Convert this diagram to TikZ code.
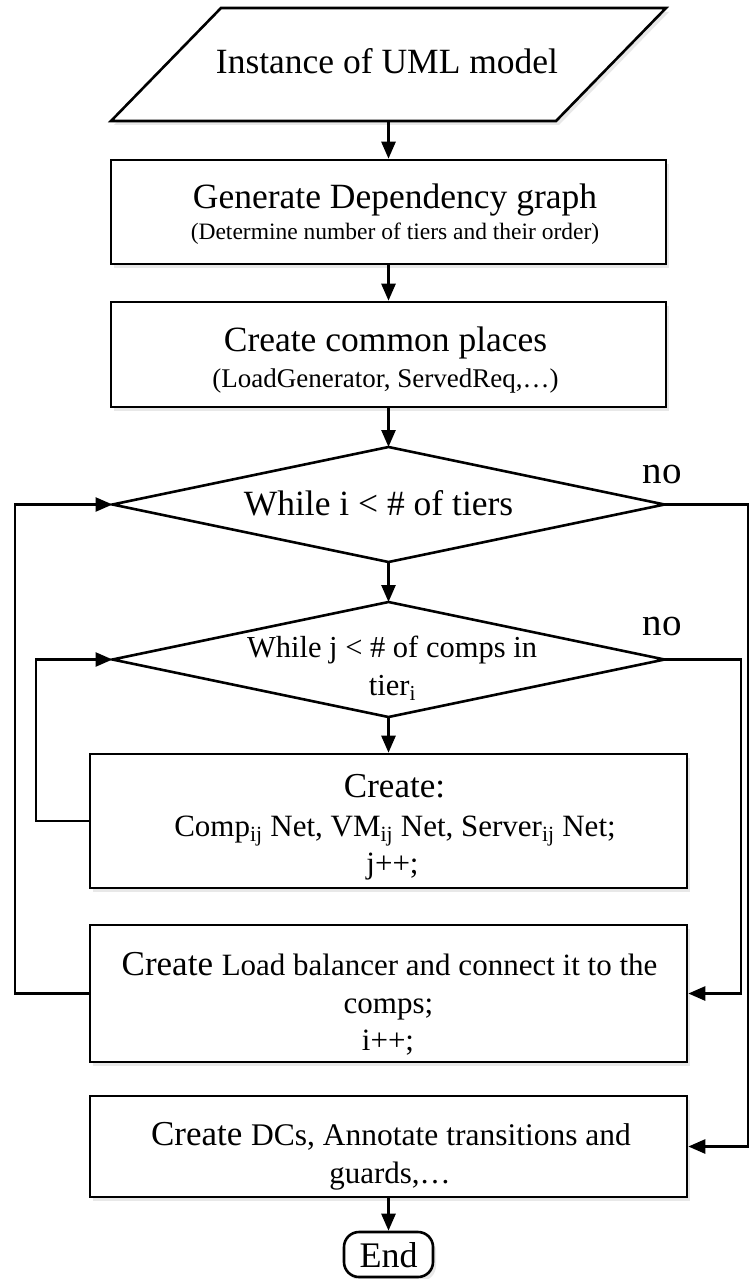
\documentclass[tikz,border=0pt]{standalone}
\usepackage{fontspec}
\setmainfont{Liberation Serif}
\usetikzlibrary{arrows.meta,shadows}

\newcommand{\fs}[1]{\fontsize{#1}{#1}\selectfont}

\tikzset{
  lw/.style={line width=2.6pt},
  soft shadow/.style={drop shadow={shadow xshift=3pt,shadow yshift=-4pt,opacity=0.18}},
  stepbox/.style={draw, lw, fill=white, soft shadow, rectangle, inner sep=0pt},
  iobox/.style={draw, lw, fill=white, soft shadow, line join=miter},
  decision/.style={draw, lw, fill=white, line join=miter},
  terminal/.style={draw, lw, fill=white, soft shadow, rectangle,
    rounded corners=15pt, inner sep=0pt},
  txt/.style={anchor=base, inner sep=0pt},
  flow/.style={lw, -{Triangle[length=17pt,width=14pt]}},
}

\begin{document}
\begin{tikzpicture}[x=1pt,y=-1pt]
\useasboundingbox (0,0) rectangle (751,1279);

% input parallelogram
\coordinate (in-nw) at (221,8);
\coordinate (in-ne) at (666,8);
\coordinate (in-se) at (556,121);
\coordinate (in-sw) at (111,121);
\coordinate (in-s) at (388.5,121);
\path[iobox] (in-nw) -- (in-ne) -- (in-se) -- (in-sw) -- cycle;

% decision diamonds
\coordinate (d1) at (388.5,504.5);
\coordinate (d1-n) at (388.5,447);
\coordinate (d1-s) at (388.5,562);
\coordinate (d1-w) at (112.5,504.5);
\coordinate (d1-e) at (664.5,504.5);
\path[decision] (d1-n) -- (d1-e) -- (d1-s) -- (d1-w) -- cycle;

\coordinate (d2) at (388.5,659.5);
\coordinate (d2-n) at (388.5,602);
\coordinate (d2-s) at (388.5,717);
\coordinate (d2-w) at (112.5,659.5);
\coordinate (d2-e) at (664.5,659.5);
\path[decision] (d2-n) -- (d2-e) -- (d2-s) -- (d2-w) -- cycle;

% process boxes
\node[stepbox, minimum width=555pt, minimum height=104pt] (gen) at (388.5,212) {};
\node[stepbox, minimum width=555pt, minimum height=105pt] (com) at (388.5,354.5) {};
\node[stepbox, minimum width=597pt, minimum height=134pt] (cr) at (388.5,821) {};
\node[stepbox, minimum width=597pt, minimum height=137pt] (lb) at (388.5,993.5) {};
\node[stepbox, minimum width=597pt, minimum height=101pt] (dc) at (388.5,1146.5) {};
\node[terminal, minimum width=89pt, minimum height=45pt] (end) at (388.5,1254.5) {};

% texts
\node[txt, font=\fs{35.5}] (in-t) at (387,74) {Instance of UML model};
\node[txt, font=\fs{35.5}] (gen-t1) at (395,208) {Generate Dependency graph};
\node[txt, font=\fs{23.5}] (gen-t2) at (395,239) {(Determine number of tiers and their order)};
\node[txt, font=\fs{35.5}] (com-t1) at (385.5,351) {Create common places};
\node[txt, font=\fs{27}] (com-t2) at (385.5,387) {(LoadGenerator, ServedReq,…)};
\node[txt, font=\fs{35.5}] (d1-t) at (378.5,515) {While i < \# of tiers};
\node[txt, font=\fs{39}] (no1) at (662,483) {no};
\node[txt, font=\fs{30.5}] (d2-t1) at (392,657) {While j < \# of comps in};
\node[txt, font=\fs{30.5}] (d2-t2) at (392.5,695) {tier\textsubscript{i}};
\node[txt, font=\fs{39}] (no2) at (662,635) {no};
\node[txt, font=\fs{35}] (cr-t1) at (394.5,797) {Create:};
\node[txt, font=\fs{31}] (cr-t2) at (395,836)
  {Comp\textsubscript{ij} Net, VM\textsubscript{ij} Net, Server\textsubscript{ij} Net;};
\node[txt, font=\fs{31}] (cr-t3) at (392.5,873) {j++;};
\node[txt] (lb-t1) at (389.5,975)
  {{\fs{35}Create }{\fs{31}Load balancer and connect it to the}};
\node[txt, font=\fs{31}] (lb-t2) at (388.5,1013) {comps;};
\node[txt, font=\fs{31}] (lb-t3) at (388,1050) {i++;};
\node[txt] (dc-t1) at (391,1145)
  {{\fs{35}Create }{\fs{31.5}DCs, Annotate transitions and}};
\node[txt, font=\fs{31}] (dc-t2) at (390,1183) {guards,…};
\node[txt, font=\fs{36}] (end-t) at (388.5,1267) {End};

% loop rails
\coordinate (il) at (15,0);
\coordinate (jl) at (36,0);
\coordinate (jr) at (741,0);
\coordinate (ir) at (748,0);

% straight flow
\draw[flow] (in-s) -- (gen.north);
\draw[flow] (gen.south) -- (com.north);
\draw[flow] (com.south) -- (d1-n);
\draw[flow] (d1-s) -- (d2-n);
\draw[flow] (d2-s) -- (cr.north);
\draw[flow] (dc.south) -- (end.north);

% loops and exits
\draw[flow] (cr.west) -| (d2-w -| jl) -- (d2-w);
\draw[flow] (d2-e) -| (lb.east -| jr) -- (lb.east);
\draw[flow] (lb.west) -| (d1-w -| il) -- (d1-w);
\draw[flow] (d1-e) -| (dc.east -| ir) -- (dc.east);
\end{tikzpicture}
\end{document}
